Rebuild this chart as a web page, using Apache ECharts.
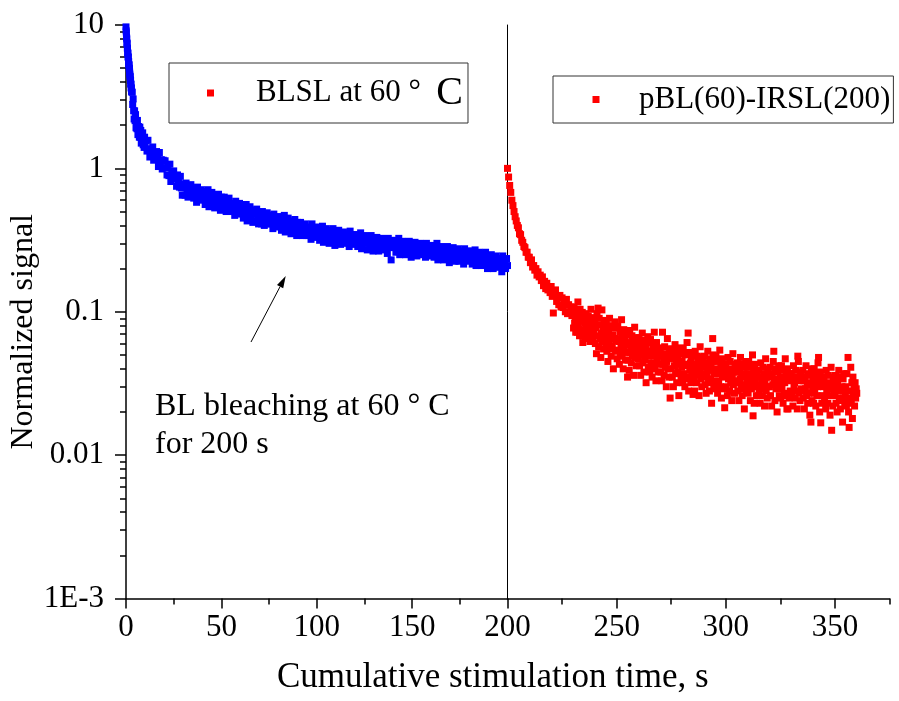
<!DOCTYPE html>
<html><head><meta charset="utf-8">
<script src="https://cdn.jsdelivr.net/npm/echarts@6/dist/echarts.min.js"></script>
<style>html,body{margin:0;padding:0;background:#fff}#c{width:899px;height:701px}</style>
</head><body><div id="c"></div>
<script>
const FONT = "'Liberation Serif','Times New Roman',serif";
const seriesNames = ['BLSL at 60 \u00b0 C', 'pBL(60)-IRSL(200)'];
const xTitle = 'Cumulative stimulation time, s';
const yTitle = 'Normalized signal';
const xTicksLeft = [0, 50, 100, 150, 200];
const xMinorLeft = [25, 75, 125, 175];
const xTicksRight = [250, 300, 350];
const xMinorRight = [225, 275, 325, 375];
const yTicks = [0.001, 0.01, 0.1, 1, 10];
const yTickLabels = ['1E-3', '0.01', '0.1', '1', '10'];
const yMinor = [0.002,0.003,0.004,0.005,0.006,0.007,0.008,0.009,
  0.02,0.03,0.04,0.05,0.06,0.07,0.08,0.09,
  0.2,0.3,0.4,0.5,0.6,0.7,0.8,0.9,
  2,3,4,5,6,7,8,9];

const blueTime = [
  0,0.1,0.2,0.3,0.4,0.5,0.6,0.7,0.8,0.9,1,1.1,1.2,1.3,1.4,1.5,1.6,1.7,1.8,1.9,2,2.1,2.2,2.3,2.4,2.5,2.6,2.7,2.8,2.9,3,
  3.25,3.5,3.75,4,4.25,4.5,4.75,5,5.25,5.5,5.75,6,6.25,6.5,6.75,7,7.25,7.5,7.75,8,8.25,8.5,8.75,9,9.25,9.5,9.75,10,
  10.5,11,11.5,12,12.5,13,13.5,14,14.5,15,15.5,16,16.5,17,17.5,18,18.5,19,19.5,20,
  20.5,21,21.5,22,22.5,23,23.5,24,24.5,25,25.5,26,26.5,27,27.5,28,28.5,29,29.5,30,
  30.5,31,31.5,32,32.5,33,33.5,34,34.5,35,35.5,36,36.5,37,37.5,38,38.5,39,39.5,40,
  40.5,41,41.5,42,42.5,43,43.5,44,44.5,45,45.5,46,46.5,47,47.5,48,48.5,49,49.5,50,
  50.5,51,51.5,52,52.5,53,53.5,54,54.5,55,55.5,56,56.5,57,57.5,58,58.5,59,59.5,60,
  60.5,61,61.5,62,62.5,63,63.5,64,64.5,65,65.5,66,66.5,67,67.5,68,68.5,69,69.5,70,
  70.5,71,71.5,72,72.5,73,73.5,74,74.5,75,75.5,76,76.5,77,77.5,78,78.5,79,79.5,80,
  80.5,81,81.5,82,82.5,83,83.5,84,84.5,85,85.5,86,86.5,87,87.5,88,88.5,89,89.5,90,
  90.5,91,91.5,92,92.5,93,93.5,94,94.5,95,95.5,96,96.5,97,97.5,98,98.5,99,99.5,100,
  100.5,101,101.5,102,102.5,103,103.5,104,104.5,105,105.5,106,106.5,107,107.5,108,108.5,109,109.5,110,
  110.5,111,111.5,112,112.5,113,113.5,114,114.5,115,115.5,116,116.5,117,117.5,118,118.5,119,119.5,120,
  120.5,121,121.5,122,122.5,123,123.5,124,124.5,125,125.5,126,126.5,127,127.5,128,128.5,129,129.5,130,
  130.5,131,131.5,132,132.5,133,133.5,134,134.5,135,135.5,136,136.5,137,137.5,138,138.5,139,139.5,140,
  140.5,141,141.5,142,142.5,143,143.5,144,144.5,145,145.5,146,146.5,147,147.5,148,148.5,149,149.5,150,
  150.5,151,151.5,152,152.5,153,153.5,154,154.5,155,155.5,156,156.5,157,157.5,158,158.5,159,159.5,160,
  160.5,161,161.5,162,162.5,163,163.5,164,164.5,165,165.5,166,166.5,167,167.5,168,168.5,169,169.5,170,
  170.5,171,171.5,172,172.5,173,173.5,174,174.5,175,175.5,176,176.5,177,177.5,178,178.5,179,179.5,180,
  180.5,181,181.5,182,182.5,183,183.5,184,184.5,185,185.5,186,186.5,187,187.5,188,188.5,189,189.5,190,
  190.5,191,191.5,192,192.5,193,193.5,194,194.5,195,195.5,196,196.5,197,197.5,198,198.5,199,199.5,200
];
const blueSignal = [
  9.7,9.1,8.8,8.2,8.0,7.5,7.4,6.9,6.8,6.4,6.35,6.0,5.95,5.6,5.55,5.3,5.25,5.0,4.95,4.7,4.55,4.4,4.35,4.15,4.1,3.9,3.85,3.65,3.62,3.45,3.42,
  3.39,2.79,3.05,2.52,2.21,2.52,2.15,2.37,1.92,2.10,1.89,2.16,1.72,1.96,1.80,1.65,1.94,1.65,1.84,1.50,1.73,1.59,1.77,1.46,1.60,1.40,1.65,1.43,
  1.56,1.32,1.57,1.35,1.20,1.37,1.24,1.41,1.14,1.26,1.16,1.31,1.19,1.03,1.29,1.10,1.15,0.99,1.14,1.01,
  1.13,1.01,0.90,1.03,0.89,1.07,0.81,0.94,0.86,0.96,0.84,0.89,0.75,0.90,0.83,0.74,0.88,0.73,0.65,0.78,
  0.75,0.65,0.79,0.70,0.63,0.73,0.67,0.77,0.64,0.72,0.62,0.71,0.66,0.58,0.74,0.64,0.69,0.60,0.71,0.63,
  0.69,0.62,0.56,0.66,0.58,0.71,0.54,0.64,0.60,0.68,0.58,0.62,0.53,0.65,0.60,0.55,0.66,0.57,0.51,0.63,
  0.60,0.52,0.63,0.55,0.50,0.58,0.54,0.62,0.51,0.57,0.50,0.57,0.53,0.47,0.59,0.51,0.55,0.48,0.57,0.51,
  0.55,0.49,0.45,0.52,0.46,0.56,0.43,0.51,0.48,0.54,0.46,0.49,0.42,0.51,0.48,0.43,0.52,0.45,0.41,0.49,
  0.48,0.41,0.50,0.44,0.40,0.46,0.43,0.49,0.41,0.45,0.41,0.47,0.43,0.38,0.48,0.42,0.45,0.39,0.46,0.41,
  0.46,0.41,0.37,0.43,0.39,0.47,0.36,0.42,0.40,0.45,0.38,0.41,0.35,0.43,0.40,0.36,0.44,0.38,0.34,0.42,
  0.40,0.35,0.42,0.37,0.34,0.39,0.36,0.41,0.34,0.38,0.34,0.39,0.36,0.32,0.41,0.35,0.38,0.33,0.39,0.35,
  0.385,0.35,0.315,0.37,0.325,0.395,0.305,0.36,0.335,0.38,0.33,0.355,0.30,0.37,0.345,0.31,0.38,0.325,0.29,0.355,
  0.35,0.305,0.37,0.325,0.295,0.34,0.315,0.36,0.30,0.335,0.305,0.35,0.325,0.285,0.365,0.315,0.335,0.295,0.345,0.31,
  0.345,0.31,0.285,0.33,0.29,0.355,0.275,0.32,0.30,0.34,0.30,0.32,0.27,0.335,0.31,0.28,0.34,0.29,0.265,0.32,
  0.315,0.275,0.33,0.295,0.265,0.31,0.285,0.325,0.27,0.30,0.275,0.315,0.29,0.255,0.325,0.285,0.305,0.23,0.31,0.28,
  0.315,0.285,0.26,0.30,0.265,0.325,0.25,0.29,0.275,0.31,0.27,0.29,0.25,0.305,0.285,0.26,0.31,0.265,0.24,0.295,
  0.29,0.255,0.305,0.27,0.245,0.285,0.26,0.30,0.25,0.28,0.255,0.29,0.27,0.24,0.30,0.26,0.28,0.245,0.29,0.26,
  0.29,0.26,0.24,0.275,0.245,0.30,0.23,0.27,0.255,0.285,0.25,0.27,0.23,0.28,0.26,0.24,0.285,0.245,0.22,0.27,
  0.265,0.23,0.28,0.245,0.225,0.26,0.24,0.275,0.225,0.255,0.23,0.265,0.245,0.215,0.275,0.24,0.255,0.225,0.265,0.235,
  0.265,0.24,0.215,0.25,0.225,0.27,0.21,0.245,0.23,0.26,0.23,0.245,0.21,0.255,0.235,0.215,0.26,0.225,0.20,0.245,
  0.24,0.21,0.25,0.22,0.20,0.235,0.215,0.245,0.205,0.23,0.205,0.235,0.22,0.19,0.245,0.21,0.225,0.20,0.235,0.21
];

const redTime = [
  200,200.5,201,201.5,202,202.5,203,203.5,204,204.5,205,205.5,206,206.5,207,207.5,208,208.5,209,209.5,
  210,210.5,211,211.5,212,212.5,213,213.5,214,214.5,215,215.5,216,216.5,217,217.5,218,218.5,219,219.5,
  220,220.5,221,221.5,222,222.5,223,223.5,224,224.5,225,225.5,226,226.5,227,227.5,228,228.5,229,229.5,
  230,230.25,230.5,230.75,231,231.25,231.5,231.75,232,232.25,232.5,232.75,233,233.25,233.5,233.75,234,234.25,234.5,234.75,
  235,235.25,235.5,235.75,236,236.25,236.5,236.75,237,237.25,237.5,237.75,238,238.25,238.5,238.75,239,239.25,239.5,239.75,
  240,240.25,240.5,240.75,241,241.25,241.5,241.75,242,242.25,242.5,242.75,243,243.25,243.5,243.75,244,244.25,244.5,244.75,
  245,245.25,245.5,245.75,246,246.25,246.5,246.75,247,247.25,247.5,247.75,248,248.25,248.5,248.75,249,249.25,249.5,249.75,
  250,250.25,250.5,250.75,251,251.25,251.5,251.75,252,252.25,252.5,252.75,253,253.25,253.5,253.75,254,254.25,254.5,254.75,
  255,255.25,255.5,255.75,256,256.25,256.5,256.75,257,257.25,257.5,257.75,258,258.25,258.5,258.75,259,259.25,259.5,259.75,
  260,260.25,260.5,260.75,261,261.25,261.5,261.75,262,262.25,262.5,262.75,263,263.25,263.5,263.75,264,264.25,264.5,264.75,
  265,265.25,265.5,265.75,266,266.25,266.5,266.75,267,267.25,267.5,267.75,268,268.25,268.5,268.75,269,269.25,269.5,269.75,
  270,270.25,270.5,270.75,271,271.25,271.5,271.75,272,272.25,272.5,272.75,273,273.25,273.5,273.75,274,274.25,274.5,274.75,
  275,275.25,275.5,275.75,276,276.25,276.5,276.75,277,277.25,277.5,277.75,278,278.25,278.5,278.75,279,279.25,279.5,279.75,
  280,280.25,280.5,280.75,281,281.25,281.5,281.75,282,282.25,282.5,282.75,283,283.25,283.5,283.75,284,284.25,284.5,284.75,
  285,285.25,285.5,285.75,286,286.25,286.5,286.75,287,287.25,287.5,287.75,288,288.25,288.5,288.75,289,289.25,289.5,289.75,
  290,290.25,290.5,290.75,291,291.25,291.5,291.75,292,292.25,292.5,292.75,293,293.25,293.5,293.75,294,294.25,294.5,294.75,
  295,295.25,295.5,295.75,296,296.25,296.5,296.75,297,297.25,297.5,297.75,298,298.25,298.5,298.75,299,299.25,299.5,299.75,
  300,300.25,300.5,300.75,301,301.25,301.5,301.75,302,302.25,302.5,302.75,303,303.25,303.5,303.75,304,304.25,304.5,304.75,
  305,305.25,305.5,305.75,306,306.25,306.5,306.75,307,307.25,307.5,307.75,308,308.25,308.5,308.75,309,309.25,309.5,309.75,
  310,310.25,310.5,310.75,311,311.25,311.5,311.75,312,312.25,312.5,312.75,313,313.25,313.5,313.75,314,314.25,314.5,314.75,
  315,315.25,315.5,315.75,316,316.25,316.5,316.75,317,317.25,317.5,317.75,318,318.25,318.5,318.75,319,319.25,319.5,319.75,
  320,320.25,320.5,320.75,321,321.25,321.5,321.75,322,322.25,322.5,322.75,323,323.25,323.5,323.75,324,324.25,324.5,324.75,
  325,325.25,325.5,325.75,326,326.25,326.5,326.75,327,327.25,327.5,327.75,328,328.25,328.5,328.75,329,329.25,329.5,329.75,
  330,330.25,330.5,330.75,331,331.25,331.5,331.75,332,332.25,332.5,332.75,333,333.25,333.5,333.75,334,334.25,334.5,334.75,
  335,335.25,335.5,335.75,336,336.25,336.5,336.75,337,337.25,337.5,337.75,338,338.25,338.5,338.75,339,339.25,339.5,339.75,
  340,340.25,340.5,340.75,341,341.25,341.5,341.75,342,342.25,342.5,342.75,343,343.25,343.5,343.75,344,344.25,344.5,344.75,
  345,345.25,345.5,345.75,346,346.25,346.5,346.75,347,347.25,347.5,347.75,348,348.25,348.5,348.75,349,349.25,349.5,349.75,
  350,350.25,350.5,350.75,351,351.25,351.5,351.75,352,352.25,352.5,352.75,353,353.25,353.5,353.75,354,354.25,354.5,354.75,
  355,355.25,355.5,355.75,356,356.25,356.5,356.75,357,357.25,357.5,357.75,358,358.25,358.5,358.75,359,359.25,359.5,359.75,
  360
];
const redSignal = [
  1.00,0.87,0.76,0.68,0.60,0.55,0.50,0.46,0.43,0.40,0.385,0.35,0.345,0.315,0.305,0.285,0.28,0.26,0.26,0.24,
  0.24,0.22,0.23,0.205,0.21,0.195,0.2,0.18,0.19,0.175,0.18,0.165,0.175,0.152,0.163,0.145,0.158,0.142,0.15,0.136,
  0.15,0.128,0.098,0.135,0.142,0.118,0.128,0.112,0.13,0.108,0.125,0.107,0.118,0.1,0.122,0.097,0.112,0.099,0.108,0.094,
  0.095,0.077,0.108,0.083,0.091,0.072,0.102,0.081,0.072,0.117,0.078,0.096,0.068,0.104,0.086,0.093,0.075,0.099,0.061,0.09,
  0.089,0.071,0.083,0.065,0.097,0.077,0.081,0.068,0.093,0.074,0.086,0.062,0.079,0.104,0.072,0.083,0.066,0.091,0.075,0.085,
  0.085,0.060,0.077,0.051,0.097,0.068,0.106,0.057,0.090,0.065,0.081,0.048,0.071,0.103,0.062,0.076,0.055,0.087,0.067,0.079,
  0.060,0.083,0.053,0.070,0.045,0.075,0.063,0.090,0.055,0.067,0.049,0.080,0.058,0.069,0.040,0.077,0.065,0.085,0.053,0.063,
  0.065,0.047,0.079,0.054,0.062,0.043,0.072,0.051,0.060,0.088,0.049,0.067,0.040,0.075,0.056,0.064,0.046,0.069,0.052,0.061,
  0.035,0.046,0.059,0.039,0.074,0.052,0.056,0.044,0.068,0.049,0.062,0.036,0.054,0.078,0.048,0.058,0.042,0.066,0.051,0.060,
  0.047,0.066,0.042,0.056,0.036,0.059,0.050,0.071,0.044,0.053,0.038,0.063,0.046,0.055,0.032,0.061,0.051,0.067,0.041,0.049,
  0.053,0.038,0.064,0.044,0.050,0.035,0.059,0.042,0.049,0.072,0.040,0.055,0.033,0.061,0.046,0.052,0.038,0.056,0.043,0.050,
  0.053,0.038,0.049,0.033,0.072,0.043,0.047,0.036,0.057,0.041,0.051,0.030,0.045,0.065,0.040,0.048,0.035,0.055,0.025,0.050,
  0.040,0.055,0.035,0.047,0.030,0.050,0.042,0.059,0.037,0.044,0.032,0.053,0.038,0.046,0.026,0.051,0.043,0.056,0.035,0.041,
  0.045,0.032,0.055,0.037,0.043,0.030,0.050,0.035,0.042,0.061,0.034,0.071,0.028,0.052,0.039,0.044,0.032,0.048,0.036,0.042,
  0.0265,0.033,0.043,0.028,0.053,0.038,0.041,0.032,0.049,0.036,0.045,0.026,0.039,0.057,0.034,0.042,0.030,0.048,0.037,0.044,
  0.035,0.049,0.031,0.041,0.027,0.044,0.037,0.053,0.032,0.039,0.028,0.047,0.034,0.041,0.023,0.045,0.065,0.050,0.031,0.037,
  0.040,0.029,0.049,0.033,0.038,0.027,0.045,0.032,0.037,0.054,0.030,0.042,0.025,0.047,0.035,0.039,0.029,0.043,0.0214,0.038,
  0.042,0.030,0.038,0.026,0.048,0.034,0.037,0.028,0.045,0.032,0.040,0.024,0.035,0.051,0.031,0.038,0.027,0.043,0.033,0.039,
  0.032,0.044,0.028,0.038,0.024,0.040,0.034,0.048,0.029,0.036,0.026,0.043,0.031,0.037,0.021,0.041,0.035,0.045,0.028,0.033,
  0.037,0.027,0.045,0.031,0.035,0.024,0.041,0.029,0.034,0.050,0.0188,0.038,0.023,0.043,0.032,0.036,0.026,0.039,0.030,0.035,
  0.039,0.027,0.035,0.023,0.044,0.031,0.034,0.026,0.041,0.029,0.037,0.022,0.032,0.047,0.028,0.035,0.025,0.040,0.030,0.036,
  0.030,0.041,0.026,0.035,0.022,0.037,0.031,0.045,0.053,0.033,0.024,0.040,0.029,0.034,0.020,0.038,0.032,0.042,0.026,0.031,
  0.035,0.025,0.042,0.029,0.033,0.023,0.039,0.027,0.032,0.047,0.026,0.036,0.021,0.040,0.021,0.034,0.025,0.037,0.028,0.033,
  0.037,0.026,0.034,0.022,0.042,0.030,0.032,0.025,0.039,0.028,0.035,0.021,0.049,0.045,0.027,0.033,0.024,0.038,0.029,0.035,
  0.028,0.039,0.025,0.033,0.021,0.035,0.029,0.042,0.026,0.031,0.023,0.037,0.027,0.032,0.019,0.036,0.017,0.040,0.024,0.029,
  0.033,0.023,0.040,0.027,0.031,0.022,0.036,0.026,0.030,0.044,0.048,0.034,0.020,0.038,0.0168,0.032,0.023,0.035,0.026,0.030,
  0.034,0.024,0.031,0.021,0.039,0.027,0.030,0.023,0.036,0.026,0.032,0.019,0.029,0.041,0.0149,0.030,0.022,0.035,0.027,0.032,
  0.026,0.036,0.023,0.031,0.020,0.033,0.028,0.039,0.024,0.029,0.021,0.035,0.025,0.030,0.017,0.034,0.028,0.037,0.023,0.027,
  0.030,0.022,0.037,0.025,0.048,0.020,0.0156,0.024,0.028,0.041,0.023,0.032,0.018,0.035,0.026,0.030,0.022,0.032,0.025,0.029,
  0.027
];

const chart = echarts.init(document.getElementById('c'), null, {renderer: 'canvas'});
const axisLineStyle = {color: '#000', width: 1.5};
const tickLabel = {fontFamily: FONT, fontSize: 31, color: '#000'};

const option = {
  animation: false,
  backgroundColor: '#fff',
  grid: [
    {left: 126, top: 25, width: 381.5, height: 573.5},
    {left: 507.5, top: 25, width: 382, height: 573.5}
  ],
  xAxis: [
    {gridIndex: 0, type: 'value', position: 'bottom', min: 0, max: 200,
     axisLine: {show: true, onZero: false, lineStyle: axisLineStyle},
     axisTick: {show: true, customValues: xTicksLeft, length: 10, lineStyle: axisLineStyle},
     axisLabel: Object.assign({show: true, customValues: xTicksLeft, margin: 14}, tickLabel),
     splitLine: {show: false},
     name: xTitle, nameLocation: 'middle', nameGap: 62,
     nameTextStyle: {fontFamily: FONT, fontSize: 35, color: '#000', padding: [0, 0, 0, 352]}},
    {gridIndex: 0, type: 'value', position: 'bottom', min: 0, max: 200,
     axisLine: {show: false, onZero: false},
     axisTick: {show: true, customValues: xMinorLeft, length: 6, lineStyle: axisLineStyle},
     axisLabel: {show: false}, splitLine: {show: false}},
    {gridIndex: 1, type: 'value', position: 'bottom', min: 200, max: 375,
     axisLine: {show: true, onZero: false, lineStyle: axisLineStyle},
     axisTick: {show: true, customValues: xTicksRight, length: 10, lineStyle: axisLineStyle},
     axisLabel: Object.assign({show: true, customValues: xTicksRight, margin: 14}, tickLabel),
     splitLine: {show: false}},
    {gridIndex: 1, type: 'value', position: 'bottom', min: 200, max: 375,
     axisLine: {show: false, onZero: false},
     axisTick: {show: true, customValues: xMinorRight, length: 6, lineStyle: axisLineStyle},
     axisLabel: {show: false}, splitLine: {show: false}}
  ],
  yAxis: [
    {gridIndex: 0, type: 'log', logBase: 10, position: 'left', min: 0.001, max: 10,
     axisLine: {show: true, onZero: false, lineStyle: axisLineStyle},
     axisTick: {show: true, customValues: yTicks, length: 11, lineStyle: axisLineStyle},
     axisLabel: Object.assign({show: true, customValues: yTicks, margin: 22,
       formatter: function (v) { return yTickLabels[Math.round(Math.log10(v)) + 3]; }}, tickLabel),
     minorTick: {show: false}, splitLine: {show: false},
     name: yTitle, nameLocation: 'middle', nameGap: 75, nameRotate: 90,
     nameTextStyle: {fontFamily: FONT, fontSize: 32, color: '#000', padding: [0, 40, 0, 0]}},
    {gridIndex: 0, type: 'log', logBase: 10, position: 'left', min: 0.001, max: 10,
     axisLine: {show: false},
     axisTick: {show: true, customValues: yMinor, length: 6, lineStyle: axisLineStyle},
     axisLabel: {show: false}, splitLine: {show: false}},
    {gridIndex: 1, type: 'log', logBase: 10, position: 'left', min: 0.001, max: 10,
     axisLine: {show: true, onZero: false, lineStyle: {color: '#000', width: 1}},
     axisTick: {show: false}, axisLabel: {show: false}, splitLine: {show: false}}
  ],
  legend: [
    {data: [{name: seriesNames[0], itemStyle: {color: '#ff0000'}}],
     left: 169, top: 63, icon: 'rect', itemWidth: 7, itemHeight: 7,
     padding: [10, 5, 10, 38], borderColor: '#333', borderWidth: 1, selectedMode: false,
     formatter: function () { return 'BLSL at 60 \u00b0  {b|C}'; },
     textStyle: {fontFamily: FONT, fontSize: 31, color: '#000', lineHeight: 34, padding: [0, 0, 0, 37],
       rich: {b: {fontFamily: FONT, fontSize: 40, color: '#000', lineHeight: 34}}}},
    {data: [{name: seriesNames[1], itemStyle: {color: '#ff0000'}}],
     left: 553, top: 76, icon: 'rect', itemWidth: 7, itemHeight: 7,
     padding: [8, 3, 8, 39.5], borderColor: '#333', borderWidth: 1, selectedMode: false,
     textStyle: {fontFamily: FONT, fontSize: 31, color: '#000', lineHeight: 31, padding: [0, 0, 0, 34.5]}}
  ],
  series: [
    {type: 'scatter', name: seriesNames[0], xAxisIndex: 0, yAxisIndex: 0,
     data: blueTime.map(function (t, i) { return [t, blueSignal[i]]; }),
     symbol: 'rect', symbolSize: 7, itemStyle: {color: '#0000ff', opacity: 1}, silent: true},
    {type: 'scatter', name: seriesNames[1], xAxisIndex: 2, yAxisIndex: 2,
     data: redTime.map(function (t, i) { return [t, redSignal[i]]; }),
     symbol: 'rect', symbolSize: 7, itemStyle: {color: '#ff0000', opacity: 1}, silent: true}
  ],
  graphic: [
    {type: 'line', shape: {x1: 251, y1: 342, x2: 280.1, y2: 286.6}, style: {stroke: '#000', lineWidth: 1}, silent: true},
    {type: 'polygon', shape: {points: [[285.7, 276], [283.2, 288.2], [277.0, 285.0]]}, style: {fill: '#000'}, silent: true},
    {type: 'text', left: 155, top: 388, silent: true,
     style: {text: 'BL bleaching at 60 \u00b0 C\nfor 200 s', fontFamily: FONT, fontSize: 32, lineHeight: 38, fill: '#000'}}
  ]
};
chart.setOption(option);
</script>
</body></html>
